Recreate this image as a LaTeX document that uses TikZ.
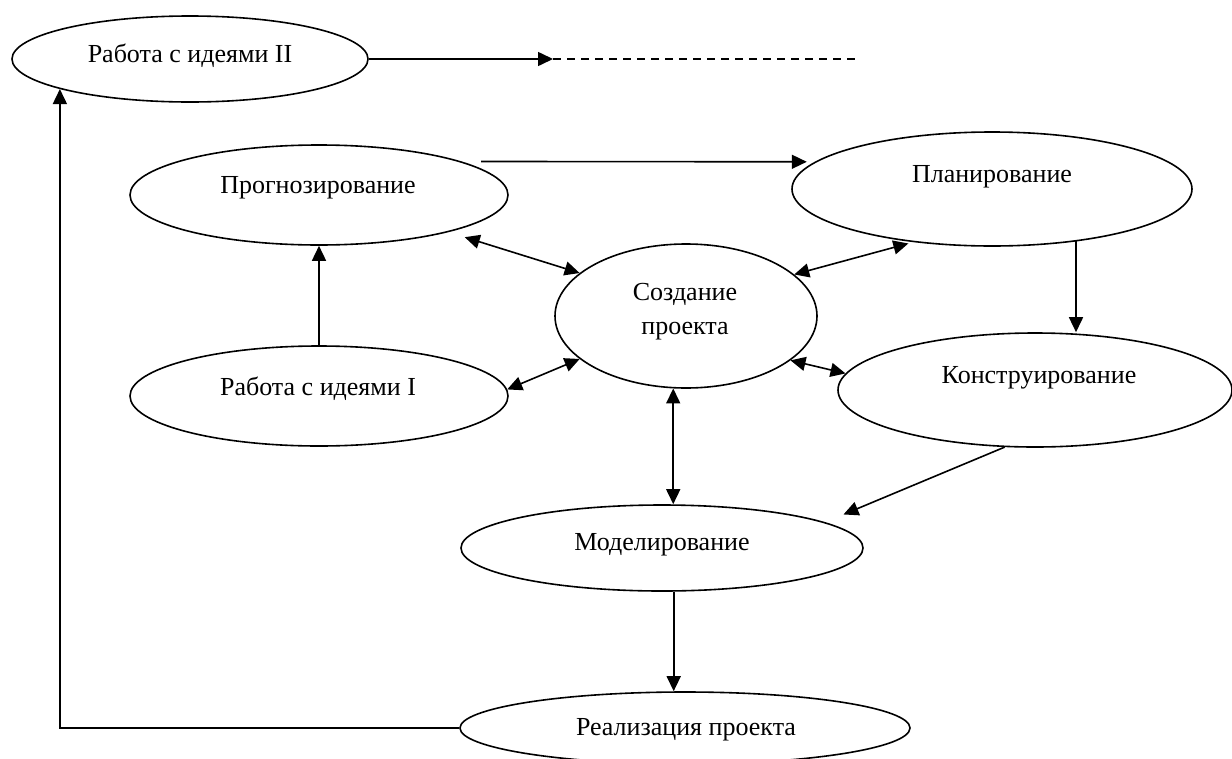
\documentclass[tikz,border=0pt]{standalone}
\usepackage{fontspec}
\setmainfont{Liberation Serif}
\usetikzlibrary{shapes.geometric,arrows.meta}
\begin{document}
\begin{tikzpicture}[x=1pt,y=-1pt,
  ell/.style={ellipse,draw,line width=1.6pt,inner sep=0pt},
  lbl/.style={anchor=base,font=\fontsize{26}{34}\selectfont,inner sep=0pt},
  con/.style={line width=1.6pt},
  tip/.style={Triangle[length=15pt,width=14pt]},
  arr/.style={con,-{Triangle[length=15pt,width=14pt]}},
  darr/.style={con,{Triangle[length=15pt,width=14pt]}-{Triangle[length=15pt,width=14pt]}}]
\useasboundingbox (0,0) rectangle (1232,758);
% ellipses
\node[ell,minimum width=356pt,minimum height=86pt] (rab2) at (190,59) {};
\node[ell,minimum width=378pt,minimum height=100pt] (prog) at (319,195) {};
\node[ell,minimum width=400pt,minimum height=114pt] (plan) at (992,189) {};
\node[ell,minimum width=262pt,minimum height=144pt] (sozd) at (686,316) {};
\node[ell,minimum width=378pt,minimum height=100pt] (rab1) at (319,396) {};
\node[ell,minimum width=394pt,minimum height=114pt] (konstr) at (1035,390) {};
\node[ell,minimum width=402pt,minimum height=86pt] (model) at (662,548) {};
\node[ell,minimum width=450pt,minimum height=72pt] (real) at (685,728) {};
% texts
\node[lbl] (trab2) at (190,62) {Работа с идеями II};
\node[lbl] (tprog) at (318,193) {Прогнозирование};
\node[lbl] (tplan) at (992,182) {Планирование};
\node[lbl] (tsozd1) at (685,300) {Создание};
\node[lbl] (tsozd2) at (685,334) {проекта};
\node[lbl] (trab1) at (318,395) {Работа с идеями I};
\node[lbl] (tkonstr) at (1039,383) {Конструирование};
\node[lbl] (tmodel) at (662,550) {Моделирование};
\node[lbl] (treal) at (686,735) {Реализация проекта};
% free ends
\coordinate (dend) at (553,59);
\coordinate (dfin) at (857,59);
% connectors
\draw[arr] (rab2.east) -- (dend);
\draw[con,dash pattern=on 8pt off 6pt] (dend) -- (dfin);
\draw[arr] ([xshift=28pt,yshift=-2.4pt]prog.north east) -- ([xshift=-14pt,yshift=-3pt]plan.170);
\draw[arr] (rab1.north) -- (prog.south);
\draw[darr,shorten <=17pt] (prog.-16.3) -- (sozd.158.3);
\draw[darr] (rab1.2.4) -- (sozd.202.9);
\draw[darr,shorten >=5pt] (sozd.21.9) -- (plan.214.2);
\draw[darr] (sozd.-23.3) -- (konstr.175.7);
\draw[arr] (plan.-32) -- (plan.-32 |- konstr.north);
\draw[arr,shorten >=20pt] (konstr.242.2) -- (model.9.6);
\draw[darr] (sozd.-100) -- (sozd.-100 |- model.north);
\draw[arr] (model.-75.6) -- (model.-75.6 |- real.north);
\draw[arr] (real.west) -| (rab2.-167.3);
\end{tikzpicture}
\end{document}
